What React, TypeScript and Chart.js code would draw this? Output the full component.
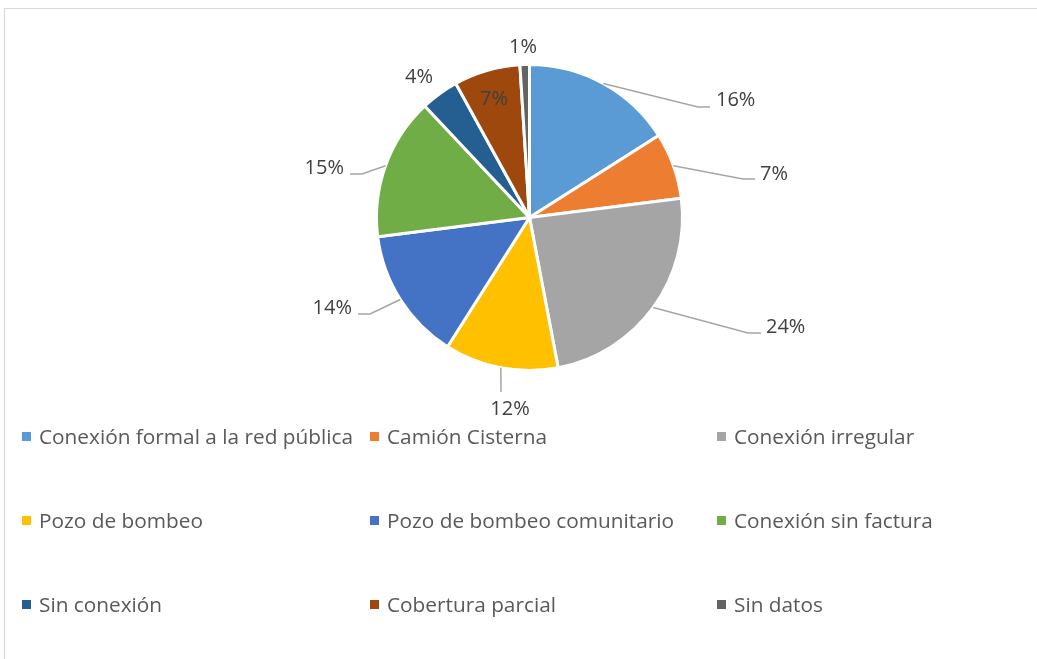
import React, { useEffect, useRef } from "react";
import { Chart, registerables } from "chart.js";

Chart.register(...registerables);

const categories = [
  "Conexión formal a la red pública",
  "Camión Cisterna",
  "Conexión irregular",
  "Pozo de bombeo",
  "Pozo de bombeo comunitario",
  "Conexión sin factura",
  "Sin conexión",
  "Cobertura parcial",
  "Sin datos",
];
const shares = [16, 7, 24, 12, 14, 15, 4, 7, 1];
const valueLabels = ["16%", "7%", "24%", "12%", "14%", "15%", "4%", "7%", "1%"];
const sliceColors = [
  "#5B9BD5",
  "#ED7D31",
  "#A5A5A5",
  "#FFC000",
  "#4472C4",
  "#70AD47",
  "#255E91",
  "#9E480E",
  "#636363",
];

// Label layout (pixel offsets relative to the pie centre): text anchor, alignment, optional leader elbow.
type Lay = { tx: number; ty: number; align: CanvasTextAlign; line?: [number, number, number] };
const labelLayout: Lay[] = [
  { tx: 186.5, ty: -118.5, align: "left", line: [168.5, -110.5, 180.5] },
  { tx: 230.5, ty: -44.5, align: "left", line: [213.5, -38.5, 225.5] },
  { tx: 236.5, ty: 108.5, align: "left", line: [218.5, 115.5, 231.5] },
  { tx: -19.5, ty: 190.5, align: "center", line: [-28.5, 174.5, -28.5] },
  { tx: -177.5, ty: 89.5, align: "right", line: [-159.5, 96.5, -171.5] },
  { tx: -185.5, ty: -50.5, align: "right", line: [-167.5, -43.5, -179.5] },
  { tx: -110.5, ty: -141.5, align: "center" },
  { tx: -35.5, ty: -119.5, align: "center" },
  { tx: -6.5, ty: -171.5, align: "center" },
];

const legendCols = [22, 370, 717];
const legendRows = [436.5, 520.5, 604.5];
const FONT = "'Open Sans', 'Noto Sans', sans-serif";

const framePlugin = {
  id: "frame",
  beforeDraw(chart: any) {
    const ctx = chart.ctx;
    ctx.save();
    ctx.fillStyle = "#FFFFFF";
    ctx.fillRect(0, 0, chart.width, chart.height);
    ctx.strokeStyle = "#D9D9D9";
    ctx.lineWidth = 1.2;
    ctx.beginPath();
    ctx.moveTo(4.5, chart.height);
    ctx.lineTo(4.5, 8.5);
    ctx.lineTo(chart.width, 8.5);
    ctx.stroke();
    ctx.restore();
  },
};

const labelPlugin = {
  id: "sliceLabels",
  afterDatasetsDraw(chart: any) {
    const ctx = chart.ctx;
    const meta = chart.getDatasetMeta(0);
    ctx.save();
    meta.data.forEach((arc: any, i: number) => {
      const p = arc.getProps(["x", "y", "startAngle", "endAngle", "outerRadius"], true);
      const mid = (p.startAngle + p.endAngle) / 2;
      const L = labelLayout[i];
      if (L.line) {
        const sx = p.x + Math.cos(mid) * p.outerRadius;
        const sy = p.y + Math.sin(mid) * p.outerRadius;
        ctx.strokeStyle = "#A6A6A6";
        ctx.lineWidth = 1.5;
        ctx.beginPath();
        ctx.moveTo(sx, sy);
        ctx.lineTo(p.x + L.line[0], p.y + L.line[1]);
        ctx.lineTo(p.x + L.line[2], p.y + L.line[1]);
        ctx.stroke();
      }
      ctx.fillStyle = "#404040";
      ctx.font = `20px ${FONT}`;
      ctx.textAlign = L.align;
      ctx.textBaseline = "alphabetic";
      ctx.fillText(valueLabels[i], p.x + L.tx, p.y + L.ty + 7);
    });
    ctx.restore();
  },
};

const legendPlugin = {
  id: "gridLegend",
  afterDraw(chart: any) {
    const ctx = chart.ctx;
    ctx.save();
    categories.forEach((name, i) => {
      const col = i % 3;
      const row = Math.floor(i / 3);
      const x = legendCols[col];
      const y = legendRows[row];
      ctx.fillStyle = sliceColors[i];
      ctx.fillRect(x, y - 4.5, 9, 9);
      ctx.fillStyle = "#595959";
      ctx.font = `20.8px ${FONT}`;
      ctx.textAlign = "left";
      ctx.textBaseline = "alphabetic";
      ctx.fillText(name, x + 17, y + 7);
    });
    ctx.restore();
  },
};

export default function App() {
  const ref = useRef<HTMLCanvasElement | null>(null);
  useEffect(() => {
    document.body.style.margin = "0";
    if (!ref.current) return;
    const chart = new Chart(ref.current, {
      type: "pie",
      data: {
        labels: categories,
        datasets: [
          {
            data: shares,
            backgroundColor: sliceColors,
            borderColor: "#FFFFFF",
            borderWidth: 3,
          },
        ],
      },
      options: {
        animation: false,
        responsive: false,
        maintainAspectRatio: false,
        radius: 153,
        layout: { padding: { left: 100, right: 78, top: 40, bottom: 264 } },
        plugins: {
          legend: { display: false },
          tooltip: { enabled: false },
        },
      } as any,
      plugins: [framePlugin, labelPlugin, legendPlugin],
    });
    return () => chart.destroy();
  }, []);
  return (
    <div style={{ width: 1037, height: 659 }}>
      <canvas ref={ref} width={1037} height={659} style={{ display: "block" }} />
    </div>
  );
}
